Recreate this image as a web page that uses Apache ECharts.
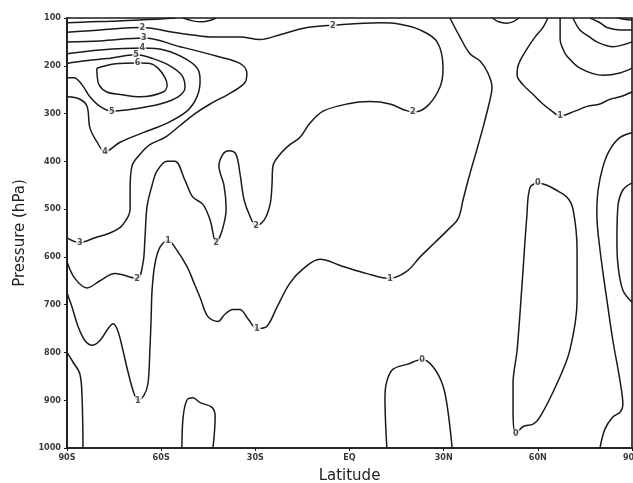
<!DOCTYPE html>
<html>
<head>
<meta charset="utf-8">
<title>Zonal-mean cross section</title>
<script src="https://cdn.jsdelivr.net/npm/echarts@6/dist/echarts.min.js"></script>
<style>
  html, body { margin: 0; padding: 0; background: #fff; }
  #chart { width: 633px; height: 483px; }
</style>
</head>
<body>
<div id="chart"></div>
<script>
// Latitude axis tick labels (-90 .. 90 every 30 degrees)
const latTickLabels = ['90S', '60S', '30S', 'EQ', '30N', '60N', '90N'];
// Pressure levels shown on the vertical axis (hPa)
const pressureTicks = [100, 200, 300, 400, 500, 600, 700, 800, 900, 1000];

// Contour lines, each a list of [latitude, pressure hPa] points

// small closed-off lines along the 100 hPa lid
const rimTopLeft  = [[-90,110],[-82.5,108],[-76,107],[-67,104],[-60,102],[-55.5,100]];
const rimBumpSouth = [[-53,100],[-50,106],[-47,108],[-44,104],[-42.5,100]];
const rimBumpNorth = [[45.5,100],[47.5,108],[50,111],[52,108],[54,100]];

// level 2: from the south pole aloft, across to 30N, back down through the southern mid-latitudes
const level2 = [[-90,130],[-79.5,125],[-65.8,120],[-56.2,130],[-50.8,135],[-43.5,140],[-34.9,140],[-28.5,145],
  [-22.1,135],[-13.5,120],[-5.3,115],[9.7,110],[16.1,113],[22.5,125],[27.9,150],[29.8,205],[28.8,245],[24.7,285],
  [20.2,297],[17.7,293],[12.9,280],[6.5,275],[-0.8,280],[-8.4,295],[-12.6,320],[-15.8,350],[-19,365],[-22.1,385],
  [-24.4,410],[-24.7,450],[-25.3,490],[-27.2,523],[-29.8,535],[-31.7,515],[-33.6,480],[-34.9,425],[-36.2,385],
  [-38.4,378],[-40.3,385],[-41.6,410],[-40,450],[-39.3,500],[-40.6,545],[-42.5,570],[-44.4,523],[-46.7,490],
  [-49.9,475],[-52.4,440],[-55.6,400],[-58.1,400],[-61.3,420],[-62.9,450],[-64.5,495],[-65.2,565],[-65.8,613],
  [-67.7,645],[-74.7,635],[-79.5,650],[-83.6,665],[-87.5,645],[-90,610]];

const level3 = [[-90,150],[-79.5,148],[-65.5,142],[-54,160],[-42.2,180],[-34.9,195],[-32.7,215],[-33.3,235],
  [-37.4,255],[-44.4,280],[-49.2,300],[-54,325],[-58.8,350],[-63.6,365],[-66.7,385],[-69.3,410],[-69.9,460],
  [-69.9,500],[-72.5,535],[-76.3,550],[-81.1,560],[-85.9,570],[-90,560]];

const level4 = [[-90,175],[-79.5,167],[-65.8,163],[-58.5,168],[-51.8,187],[-48.3,207],[-47.6,232],[-48.6,265],
  [-51.8,295],[-58.1,320],[-65.8,340],[-73.1,360],[-77.9,380],[-80.4,360],[-82.7,330],[-83.6,285],[-85.9,270],[-90,265]];

const level5 = [[-90,195],[-84.9,190],[-77.3,185],[-68,177],[-62.6,185],[-57.2,200],[-53.4,220],[-52.4,245],
  [-54.6,265],[-60.4,280],[-68.3,290],[-75.7,295],[-79.5,285],[-82.7,265],[-85.2,240],[-87.8,225],[-90,225]];

const level6 = [[-80.5,205],[-74.5,196],[-67.5,194],[-63.6,195],[-61,205],[-58.8,225],[-58.1,240],[-59.4,255],
  [-66.7,265],[-73.1,260],[-77.3,255],[-79.8,240],[-80.4,220],[-80.5,205]];

// level 1: lower troposphere in the south, rising to the lid near 30N
const level1 = [[-90,675],[-88.4,705],[-86.5,745],[-84.3,775],[-82,785],[-79.5,775],[-76.9,750],[-75.3,740],
  [-73.8,755],[-72.2,795],[-70.6,840],[-68.7,885],[-67.4,900],[-65.5,890],[-64.2,865],[-63.6,795],[-63.2,730],
  [-62.9,670],[-62,615],[-60.4,580],[-57.8,565],[-55.6,580],[-51.8,620],[-49.2,660],[-47.6,685],[-45.1,725],
  [-41.9,735],[-39.7,720],[-37.1,710],[-34.9,710],[-32.3,730],[-29.5,750],[-26.3,745],[-23.1,705],[-19,655],
  [-14.8,625],[-9.4,605],[-2.1,620],[5.6,635],[12.9,645],[18.3,630],[22.5,600],[27.2,570],[31.1,545],[34.6,520],
  [36.2,480],[38.4,425],[40.6,375],[42.5,330],[44.8,270],[45.4,245],[44.1,215],[41.6,190],[38.4,175],[35.2,140],[32,100]];

// northern high-latitude upper levels
const level1North = [[63.2,100],[61.6,120],[59.1,140],[56.5,165],[53.7,200],[53.4,220],[55.3,240],[58.5,260],
  [61.6,280],[64.5,295],[67.1,305],[71.8,295],[75.7,285],[79.8,280],[83,270],[86.2,265],[90,255]];
const level2North = [[67.1,100],[67.1,145],[68,165],[69.3,180],[73.4,205],[80.8,220],[86.2,215],[90,205]];
const level3North = [[71.2,100],[73.4,125],[76.6,140],[78.8,150],[83.9,160],[90,150]];
const level4North = [[76.6,100],[79.8,110],[82,120],[86.2,125],[90,125]];
const level5North = [[85.5,100],[88,103],[90,104]];

// Arctic column
const arcticOuter = [[90,340],[86.2,350],[83,375],[80.8,410],[79.2,460],[78.8,510],[79.8,585],[82,690],
  [83.9,775],[86.2,860],[87.1,910],[86.2,925],[83.9,935],[81.4,960],[79.8,1000]];
const arcticInner = [[90,445],[87.1,460],[85.5,495],[85.2,565],[85.5,615],[87.1,670],[90,695]];

// zero lines
const zero30N = [[11.9,1000],[11.3,895],[11.9,860],[13.9,835],[18.3,825],[23.1,815],[26.6,830],[29.8,870],
  [31.4,925],[32.7,1000]];
const zero60N = [[60,445],[57.5,455],[56.5,515],[55,655],[53.4,795],[52.1,865],[52.1,920],[53,970],[55.3,955],
  [58.5,950],[60.7,935],[66.1,865],[70.2,795],[72.5,690],[72.5,585],[71.2,500],[69.3,475],[65.8,460],[62.9,450],[60,445]];

// near-surface lines in the south
const southPolarSurface = [[-90,800],[-88.1,820],[-85.9,845],[-85.2,895],[-84.9,1000]];
const bump60S = [[-53.4,1000],[-53,935],[-51.8,900],[-49.9,895],[-47.6,905],[-43.8,915],[-42.8,935],[-43.5,1000]];

// in-line contour labels: [latitude, pressure, text]
const contourLabels = [
  [-66,120,'2'],[-65.5,141,'3'],[-66,163,'4'],[-68,177,'5'],[-67.5,194,'6'],[-75.7,295,'5'],[-77.9,380,'4'],
  [-85.9,570,'3'],[-67.7,645,'2'],[-57.8,565,'1'],[-42.5,570,'2'],[-29.8,535,'2'],[-67.4,900,'1'],
  [-29.5,750,'1'],[12.9,645,'1'],[-5.3,115,'2'],[20.2,297,'2'],[67.1,305,'1'],[23.1,815,'0'],
  [60,445,'0'],[53,970,'0']
];

const contourLines = [
  rimTopLeft, rimBumpSouth, rimBumpNorth,
  level2, level3, level4, level5, level6, level1,
  level1North, level2North, level3North, level4North, level5North,
  arcticOuter, arcticInner, zero30N, zero60N, southPolarSurface, bump60S
];

const INK = '#1a1a1a';
const tickFont = "'DejaVu Sans Condensed', 'DejaVu Sans', sans-serif";
const titleFont = "'DejaVu Sans', sans-serif";

const lineSeries = contourLines.map(pts => ({
  type: 'line',
  data: pts,
  smooth: 0.35,
  symbol: 'none',
  silent: true,
  clip: true,
  z: 2,
  lineStyle: { color: INK, width: 1.5 }
}));

const labelSeries = {
  type: 'scatter',
  data: contourLabels,
  symbolSize: 1,
  silent: true,
  z: 5,
  itemStyle: { color: 'rgba(0,0,0,0)' },
  label: {
    show: true,
    position: 'inside',
    formatter: p => p.value[2],
    fontFamily: tickFont,
    fontSize: 9,
    fontWeight: 'bold',
    color: '#222',
    backgroundColor: '#fff',
    padding: [0, 1, 0, 1],
    lineHeight: 8
  }
};

const chart = echarts.init(document.getElementById('chart'), null, { renderer: 'canvas' });
chart.setOption({
  animation: false,
  backgroundColor: '#fff',
  grid: {
    left: 67, right: 1, top: 18, bottom: 35,
    containLabel: false,
    outerBoundsMode: 'none',
    show: true,
    borderColor: INK,
    borderWidth: 1.6
  },
  xAxis: {
    type: 'value',
    min: -90, max: 90, interval: 30,
    name: 'Latitude',
    nameLocation: 'middle',
    nameGap: 21,
    nameTextStyle: { fontFamily: titleFont, fontSize: 15, color: '#222' },
    axisLine: { show: true, onZero: false, lineStyle: { color: INK, width: 1.6 } },
    axisTick: { show: true, length: 3, lineStyle: { color: INK } },
    splitLine: { show: false },
    axisLabel: {
      margin: 5,
      fontFamily: tickFont,
      fontSize: 9,
      fontWeight: 'bold',
      color: '#3a3a3a',
      showMinLabel: true,
      showMaxLabel: true,
      formatter: v => latTickLabels[Math.round((v + 90) / 30)]
    }
  },
  yAxis: {
    type: 'value',
    inverse: true,
    min: pressureTicks[0], max: pressureTicks[pressureTicks.length - 1], interval: 100,
    name: 'Pressure (hPa)',
    nameLocation: 'middle',
    nameRotate: 90,
    nameGap: 33,
    nameTextStyle: { fontFamily: titleFont, fontSize: 15, color: '#222' },
    axisLine: { show: true, onZero: false, lineStyle: { color: INK, width: 1.6 } },
    axisTick: { show: true, length: 3, lineStyle: { color: INK } },
    splitLine: { show: false },
    axisLabel: {
      margin: 6,
      fontFamily: tickFont,
      fontSize: 9,
      fontWeight: 'bold',
      color: '#3a3a3a',
      showMinLabel: true,
      showMaxLabel: true,
      formatter: v => (pressureTicks.indexOf(v) >= 0 ? String(v) : '')
    }
  },
  series: lineSeries.concat([labelSeries])
});
</script>
</body>
</html>
